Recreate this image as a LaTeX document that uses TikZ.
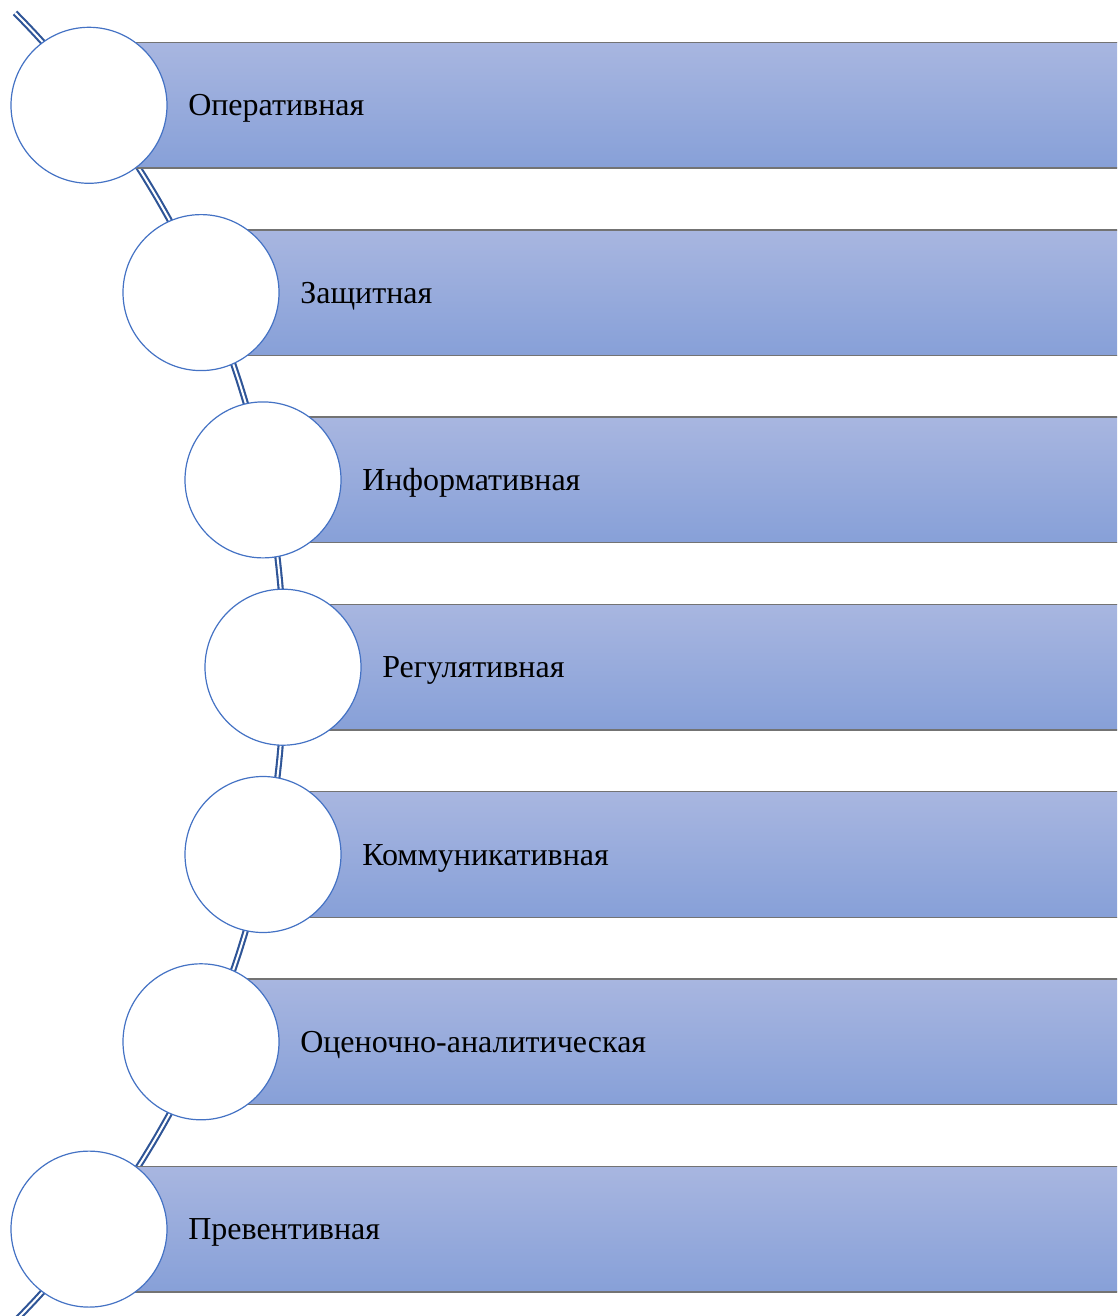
\documentclass[tikz,border=0pt]{standalone}
\usepackage{fontspec}
\setmainfont{Liberation Serif}
\definecolor{circEdge}{HTML}{4472C4}
\definecolor{barTop}{HTML}{A8B6E0}
\definecolor{barBot}{HTML}{87A0D8}
\definecolor{barEdge}{HTML}{737373}
\definecolor{wire}{HTML}{2F5597}
\begin{document}
\begin{tikzpicture}[x=0.75pt,y=-0.75pt,
  barbox/.style={rectangle, inner sep=0pt, minimum height=93.75pt, top color=barTop, bottom color=barBot, draw=none},
  barline/.style={draw=barEdge, line width=1.1pt},
  ringnode/.style={circle, inner sep=0pt, minimum size=117pt, fill=white, draw=circEdge, line width=0.9pt},
  lbl/.style={inner sep=0pt, anchor=base west, font=\fontsize{24}{28}\selectfont},
  wirestyle/.style={draw=wire, double=white, line width=1.6pt, double distance=1.5pt}]
\useasboundingbox (0,0) rectangle (1117,1316);
\clip (0,0) rectangle (1117,1316);
\draw[wirestyle] plot[domain=-46:44.7,samples=150] ({-646+930*cos(\x)},{667-930*sin(\x)});
\foreach \cx/\t [count=\i] in {89/Оперативная, 201/Защитная, 263/Информативная, 283/Регулятивная, 263/Коммуникативная, 201/Оценочно-аналитическая, 89/Превентивная}{
  \pgfmathsetmacro\cy{105.3+187.3*(\i-1)}
  \pgfmathsetmacro\w{(1130-\cx)*0.75}
  \node[barbox, minimum width=\w pt, anchor=west] (b\i) at (\cx,\cy) {};
  \draw[barline] (b\i.north west) -- (b\i.north east);
  \draw[barline] (b\i.south west) -- (b\i.south east);
  \node[ringnode] (c\i) at (\cx,\cy) {};
  \node[lbl] (t\i) at (\cx+99,\cy+10.5) {\t};
}
\end{tikzpicture}
\end{document}
